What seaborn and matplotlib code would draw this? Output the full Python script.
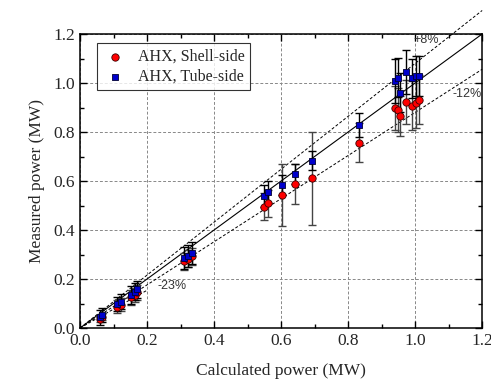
import numpy as np
import pandas as pd
import matplotlib
matplotlib.use("Agg")
import matplotlib.pyplot as plt
import seaborn as sns

# calculated power (MW), same for both sides
calc = [0.059, 0.066, 0.111, 0.121, 0.151, 0.163, 0.171, 0.310, 0.322, 0.333,
        0.549, 0.562, 0.602, 0.642, 0.692, 0.832, 0.940, 0.948, 0.955, 0.972,
        0.991, 1.002, 1.012]

# measured power (MW) and error, tube side
tube_meas = [0.044, 0.053, 0.098, 0.107, 0.135, 0.148, 0.158, 0.284, 0.295, 0.305,
             0.539, 0.554, 0.584, 0.629, 0.683, 0.829, 1.009, 1.022, 0.960, 1.046,
             1.019, 1.029, 1.029]
tube_err = [0.03, 0.03, 0.03, 0.03, 0.035, 0.035, 0.035, 0.045, 0.045, 0.045,
            0.045, 0.045, 0.04, 0.04, 0.04, 0.05, 0.09, 0.08, 0.08, 0.09,
            0.08, 0.08, 0.08]

# measured power (MW) and error, shell side
shell_meas = [0.037, 0.045, 0.087, 0.095, 0.125, 0.135, 0.145, 0.272, 0.283, 0.293,
              0.495, 0.509, 0.543, 0.588, 0.611, 0.757, 0.897, 0.890, 0.865, 0.922,
              0.907, 0.917, 0.931]
shell_err = [0.012, 0.012, 0.027, 0.027, 0.03, 0.03, 0.03, 0.035, 0.035, 0.035,
             0.055, 0.055, 0.125, 0.08, 0.19, 0.08, 0.09, 0.09, 0.08, 0.09,
             0.10, 0.10, 0.10]

# deviation lines: slope, end of line
dev_slopes = [1.0, 1.08, 0.88, 0.77]
dev_ends = [1.2, 1.2, 1.2, 0.2]
dev_styles = ["-", "--", "--", "--"]

shell = pd.DataFrame({"calc": calc, "meas": shell_meas, "err": shell_err})
tube = pd.DataFrame({"calc": calc, "meas": tube_meas, "err": tube_err})

sns.set_style("ticks")
plt.rcParams["font.family"] = ["Liberation Serif", "DejaVu Serif"]

fig = plt.figure(figsize=(4.91, 3.83), dpi=100)
ax = fig.add_axes([0.163, 0.1436, 0.819, 0.7676])

# reference lines
for s, e, ls in zip(dev_slopes, dev_ends, dev_styles):
    xs = np.array([0.0, e])
    if ls == "--":
        ax.plot(xs, s * xs, color="black", lw=0.7, ls=(0, (3, 2)), clip_on=False, zorder=2)
    else:
        ax.plot(xs, s * xs, color="black", lw=0.8, ls="-", clip_on=False, zorder=2)

# error bars
ax.errorbar(shell["calc"], shell["meas"], yerr=shell["err"], fmt="none",
            ecolor="#444444", elinewidth=1.0, capsize=3, capthick=1.0, zorder=3)
ax.errorbar(tube["calc"], tube["meas"], yerr=tube["err"], fmt="none",
            ecolor="black", elinewidth=1.0, capsize=3, capthick=1.0, zorder=3)

sns.scatterplot(data=shell, x="calc", y="meas", ax=ax, marker="o", s=28,
                color="red", edgecolor="#3a0000", linewidth=0.6,
                label="AHX, Shell-side", zorder=4)
sns.scatterplot(data=tube, x="calc", y="meas", ax=ax, marker="s", s=24,
                color="#0000cc", edgecolor="#000033", linewidth=0.6,
                label="AHX, Tube-side", zorder=5)

ax.text(0.994, 1.163, "+8%", family="Liberation Sans", fontsize=9, color="#333333")
ax.text(1.11, 0.943, "-12%", family="Liberation Sans", fontsize=9, color="#333333")
ax.text(0.23, 0.16, "-23%", family="Liberation Sans", fontsize=9, color="#333333")

ax.set_xlim(0, 1.2)
ax.set_ylim(0, 1.2)
ax.set_xticks(np.arange(0, 1.21, 0.2))
ax.set_yticks(np.arange(0, 1.21, 0.2))
ax.set_xticks(np.arange(0.1, 1.2, 0.2), minor=True)
ax.set_yticks(np.arange(0.1, 1.2, 0.2), minor=True)
ax.set_xticklabels([f"{v:.1f}" for v in np.arange(0, 1.21, 0.2)])
ax.set_yticklabels([f"{v:.1f}" for v in np.arange(0, 1.21, 0.2)])
ax.tick_params(which="both", direction="in", top=True, right=True, labelsize=12.5,
               width=1.0, color="black")
ax.tick_params(which="major", length=5)
ax.tick_params(which="minor", length=3)
ax.grid(True, which="major", ls=(0, (3, 2)), color="#888888", lw=0.7)
for sp in ax.spines.values():
    sp.set_linewidth(1.1)
    sp.set_color("black")

ax.set_xlabel("Calculated power (MW)", fontsize=12.5, labelpad=10)
ax.set_ylabel("Measured power (MW)", fontsize=12.5, labelpad=6)

leg = ax.legend(loc="upper left", bbox_to_anchor=(0.042, 0.969), borderaxespad=0,
                frameon=True, fancybox=False, edgecolor="black", fontsize=11.5,
                handletextpad=0.6, borderpad=0.35, labelspacing=0.25, handlelength=1.6)
leg.get_frame().set_linewidth(0.8)

fig.savefig("out.png", dpi=100)
